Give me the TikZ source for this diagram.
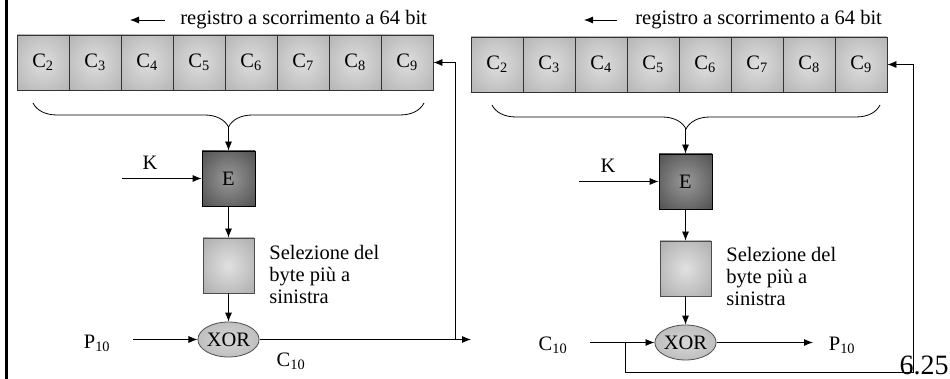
\documentclass[tikz,border=0pt]{standalone}
\usepackage{fontspec}
\setmainfont{Liberation Serif}
\usetikzlibrary{arrows.meta,shapes.geometric,decorations.pathreplacing}

\definecolor{cellin}{gray}{0.87}
\definecolor{cellout}{gray}{0.64}
\definecolor{encin}{gray}{0.6}
\definecolor{encout}{gray}{0.2}
\definecolor{selin}{gray}{0.88}
\definecolor{selout}{gray}{0.6}
\definecolor{xorin}{gray}{0.84}
\definecolor{xorout}{gray}{0.66}
\pgfdeclareradialshading{cellshade}{\pgfpoint{0bp}{0bp}}{color(0bp)=(cellin); color(50bp)=(cellout); color(72bp)=(cellout)}
\pgfdeclareradialshading{encshade}{\pgfpoint{0bp}{0bp}}{color(0bp)=(encin); color(50bp)=(encout); color(72bp)=(encout)}
\pgfdeclareradialshading{selshade}{\pgfpoint{0bp}{0bp}}{color(0bp)=(selin); color(50bp)=(selout); color(72bp)=(selout)}
\pgfdeclareradialshading{xorshade}{\pgfpoint{0bp}{0bp}}{color(0bp)=(xorin); color(50bp)=(xorout); color(72bp)=(xorout)}

\begin{document}
\begin{tikzpicture}[x=1pt,y=-1pt,line width=0.8pt,>={Latex[length=9pt,width=7pt]},
	font=\fontsize{20.5}{22}\selectfont,node distance=52pt,
	cell/.style={draw=black!80,shading=cellshade,minimum width=52pt,minimum height=55pt,inner sep=0pt},
	enc/.style={draw=black,shading=encshade,minimum width=53pt,minimum height=55pt},
	sel/.style={draw=black!70,shading=selshade,minimum width=51pt,minimum height=55pt},
	xor/.style={draw=black!70,ellipse,shading=xorshade,minimum width=53pt,minimum height=35pt,inner sep=0pt},
	lbl/.style={inner sep=0pt},
	brace/.style={decorate,decoration={brace,mirror,amplitude=24pt}}]
\useasboundingbox (0,0) rectangle (950,379);
\draw[line width=3pt] (6.5,0) -- (6.5,379);

% cifratura
\node [cell] (l2) at (43,62.5) {C\textsubscript{2}};
\node [cell, right of = l2] (l3) {C\textsubscript{3}};
\node [cell, right of = l3] (l4) {C\textsubscript{4}};
\node [cell, right of = l4] (l5) {C\textsubscript{5}};
\node [cell, right of = l5] (l6) {C\textsubscript{6}};
\node [cell, right of = l6] (l7) {C\textsubscript{7}};
\node [cell, right of = l7] (l8) {C\textsubscript{8}};
\node [cell, right of = l8] (l9) {C\textsubscript{9}};
\node [lbl, anchor=west] (regL) at (180,20) {registro a scorrimento a 64 bit};
\coordinate (regLa) at (165,20);
\coordinate (regLb) at (130,20);
\draw [->] (regLa) to (regLb);
\draw [brace] (33,103) to (424,103);
\coordinate (tipL) at (228.5,127);
\node [enc] (encL) at (228.5,178.5) {E};
\node [sel, below of = encL, node distance=87pt] (selL) {};
\node [xor, below of = selL, node distance=74pt] (xorL) {XOR};
\node [lbl] (kL) at (150,163) {K};
\coordinate (kinL) at (122,178.5);
\node [lbl, anchor=west, align=left] (selTxtL) at (269,274) {Selezione del\\byte più a\\sinistra};
\node [lbl] (pL) at (97,343) {P\textsubscript{10}};
\coordinate (pinL) at (133,339.5);
\node [lbl] (cL) at (291,361) {C\textsubscript{10}};
\coordinate (outL) at (471,339.5);
\coordinate (fbL) at (455,339.5);
	\draw [->] (tipL) to (encL);
	\draw [->] (kinL) to (encL);
	\draw [->] (encL) to (selL);
	\draw [->] (selL) to (xorL);
	\draw [->] (pinL) to (xorL);
	\draw [->] (xorL) to (outL);
	\draw [->] (fbL) |- (l9);

% decifratura
\node [cell] (r2) at (497,64.5) {C\textsubscript{2}};
\node [cell, right of = r2] (r3) {C\textsubscript{3}};
\node [cell, right of = r3] (r4) {C\textsubscript{4}};
\node [cell, right of = r4] (r5) {C\textsubscript{5}};
\node [cell, right of = r5] (r6) {C\textsubscript{6}};
\node [cell, right of = r6] (r7) {C\textsubscript{7}};
\node [cell, right of = r7] (r8) {C\textsubscript{8}};
\node [cell, right of = r8] (r9) {C\textsubscript{9}};
\node [lbl, anchor=west] (regR) at (635,20) {registro a scorrimento a 64 bit};
\coordinate (regRa) at (617,20);
\coordinate (regRb) at (584,20);
\draw [->] (regRa) to (regRb);
\draw [brace] (492,105) to (880,105);
\coordinate (tipR) at (685.5,129);
\node [enc] (encR) at (685.5,181.5) {E};
\node [sel, below of = encR, node distance=87pt] (selR) {};
\node [xor, below of = selR, node distance=74pt] (xorR) {XOR};
\node [lbl] (kR) at (608,166) {K};
\coordinate (kinR) at (579,181.5);
\node [lbl, anchor=west, align=left] (selTxtR) at (726,276) {Selezione del\\byte più a\\sinistra};
\node [lbl] (cR) at (553,345) {C\textsubscript{10}};
\coordinate (cinR) at (590,342.5);
\coordinate (outR) at (813,342.5);
\node [lbl] (pR) at (842,345) {P\textsubscript{10}};
\coordinate (brR) at (625,342.5);
\coordinate (fbR) at (913,372);
	\draw [->] (tipR) to (encR);
	\draw [->] (kinR) to (encR);
	\draw [->] (encR) to (selR);
	\draw [->] (selR) to (xorR);
	\draw [->] (cinR) to (xorR);
	\draw [->] (xorR) to (outR);
	\draw [->] (brR) |- (fbR) |- (r9);

\node [lbl, anchor=base east, font=\fontsize{28}{30}\selectfont] (num) at (949,374) {6.25};
\end{tikzpicture}
\end{document}
